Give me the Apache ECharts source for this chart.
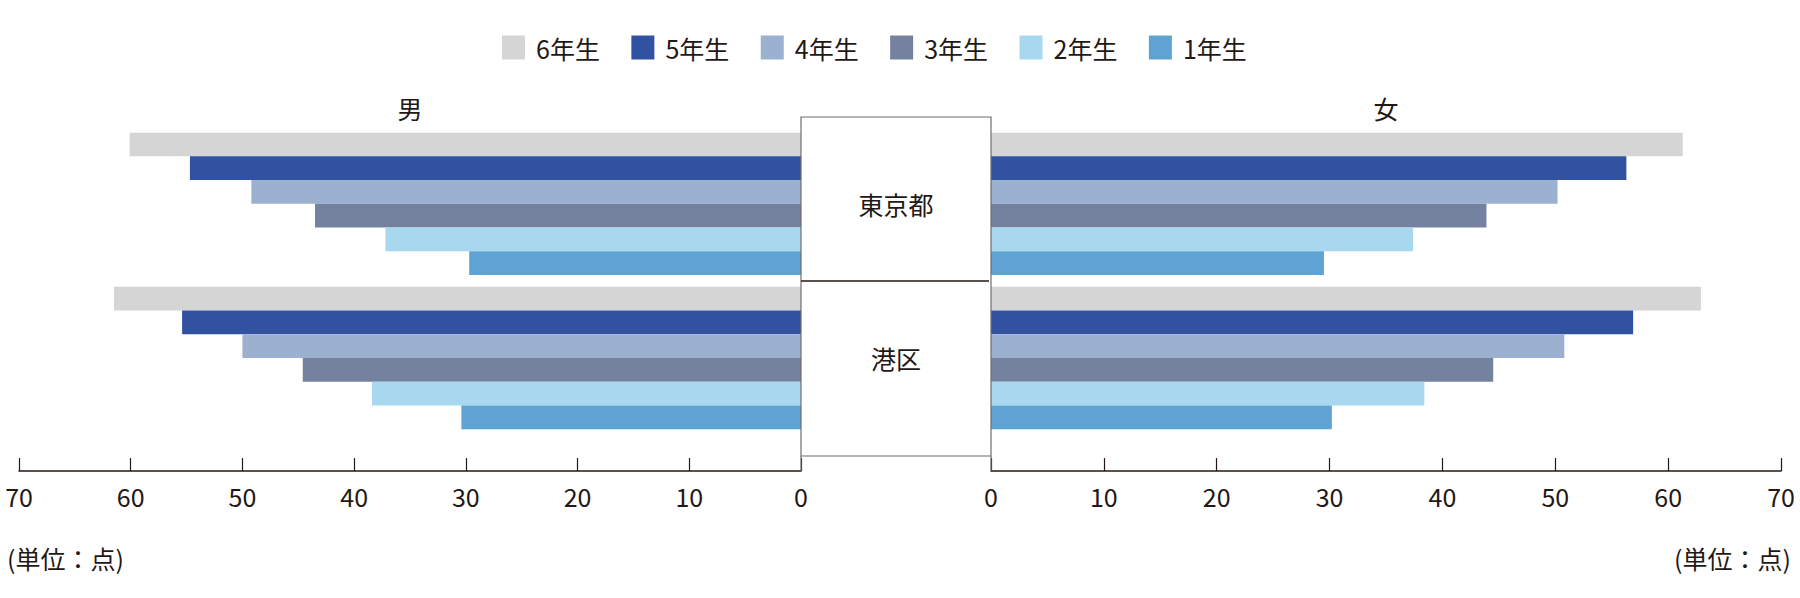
<!DOCTYPE html>
<html>
<head>
<meta charset="utf-8">
<script src="https://cdn.jsdelivr.net/npm/echarts@6/dist/echarts.min.js"></script>
<style>
html,body{margin:0;padding:0;background:#fff;}
#c{width:1800px;height:598px;}
</style>
</head>
<body>
<div id="c"></div>
<script>
// ---- data ----
const categories = ['東京都', '港区'];
const grades = ['6年生', '5年生', '4年生', '3年生', '2年生', '1年生'];
const male6 = [60.1, 61.5];
const male5 = [54.7, 55.4];
const male4 = [49.2, 50.0];
const male3 = [43.5, 44.6];
const male2 = [37.2, 38.4];
const male1 = [29.7, 30.4];
const female6 = [61.3, 62.9];
const female5 = [56.3, 56.9];
const female4 = [50.2, 50.8];
const female3 = [43.9, 44.5];
const female2 = [37.4, 38.4];
const female1 = [29.5, 30.2];
const sideLabels = ['男', '女'];
const unitLabel = '(単位：点)';
const axisMin = 0, axisMax = 70, axisStep = 10;

// ---- styles ----
const colors = ['#d5d5d5', '#3152a0', '#9cb0cf', '#74829f', '#a8d8ee', '#5fa2d4'];
const ink = '#231815';
const fontFam = '"Liberation Sans Narrow", "Noto Sans CJK JP", sans-serif';

const maleData = [male6, male5, male4, male3, male2, male1];
const femaleData = [female6, female5, female4, female3, female2, female1];

const gridTop = 126.7, gridH = 308.4;
const L = {left: 19, width: 782};
const R = {left: 991, width: 790};

function xAxisCfg(gridIndex, inverse) {
  return {
    type: 'value', gridIndex: gridIndex, inverse: inverse,
    min: axisMin, max: axisMax, interval: axisStep,
    position: 'bottom', offset: 36,
    axisLine: {show: true, lineStyle: {color: ink, width: 1.5}},
    axisTick: {show: true, inside: true, length: 13, lineStyle: {color: ink, width: 1.2}},
    splitLine: {show: false},
    axisLabel: {color: ink, fontSize: 25, fontFamily: fontFam, margin: 12}
  };
}

const series = [];
grades.forEach((g, i) => {
  series.push({
    name: g, type: 'bar', xAxisIndex: 0, yAxisIndex: 0,
    data: maleData[i], itemStyle: {color: colors[i]},
    barGap: '0%', barCategoryGap: '7.7%', silent: true
  });
});
grades.forEach((g, i) => {
  series.push({
    name: g, type: 'bar', xAxisIndex: 1, yAxisIndex: 1,
    data: femaleData[i], itemStyle: {color: colors[i]},
    barGap: '0%', barCategoryGap: '7.7%', silent: true
  });
});

const chart = echarts.init(document.getElementById('c'), null, {renderer: 'svg'});
chart.setOption({
  animation: false,
  backgroundColor: '#fff',
  color: colors,
  legend: {
    data: grades, left: 502, top: 35, padding: 0,
    itemWidth: 23, itemHeight: 24, itemGap: 31.5,
    icon: 'rect',
    textStyle: {color: ink, fontSize: 25, fontFamily: fontFam, padding: [0, 0, 0, 6]}
  },
  grid: [
    {left: L.left, width: L.width, top: gridTop, height: gridH, containLabel: false},
    {left: R.left, width: R.width, top: gridTop, height: gridH, containLabel: false}
  ],
  xAxis: [xAxisCfg(0, true), xAxisCfg(1, false)],
  yAxis: [
    {type: 'category', gridIndex: 0, data: categories, inverse: true, position: 'right',
     axisLine: {show: false}, axisTick: {show: false}, splitLine: {show: false},
     axisLabel: {show: true, margin: 95, align: 'center', color: ink, fontSize: 25, fontFamily: fontFam}},
    {type: 'category', gridIndex: 1, data: categories, inverse: true, position: 'left',
     axisLine: {show: false}, axisTick: {show: false}, splitLine: {show: false},
     axisLabel: {show: false}}
  ],
  graphic: [
    {type: 'rect', shape: {x: 801, y: 117, width: 190, height: 339},
     style: {fill: 'none', stroke: '#6e6e6e', lineWidth: 1.2}, z: 10},
    {type: 'line', shape: {x1: 801, y1: 281, x2: 989, y2: 281},
     style: {stroke: ink, lineWidth: 1.5}, z: 10},
    {type: 'line', shape: {x1: 801, y1: 456, x2: 801, y2: 471},
     style: {stroke: '#6e6e6e', lineWidth: 1.2}, z: 10},
    {type: 'line', shape: {x1: 991, y1: 456, x2: 991, y2: 471},
     style: {stroke: '#6e6e6e', lineWidth: 1.2}, z: 10},
    {type: 'text', x: 410, y: 108, style: {text: sideLabels[0], fill: ink, fontSize: 25, fontFamily: fontFam, textAlign: 'center', textVerticalAlign: 'middle'}},
    {type: 'text', x: 1386, y: 108, style: {text: sideLabels[1], fill: ink, fontSize: 25, fontFamily: fontFam, textAlign: 'center', textVerticalAlign: 'middle'}},
    {type: 'text', x: 7, y: 558, style: {text: unitLabel, fill: ink, fontSize: 25, fontFamily: fontFam, textAlign: 'left', textVerticalAlign: 'middle'}},
    {type: 'text', x: 1791, y: 558, style: {text: unitLabel, fill: ink, fontSize: 25, fontFamily: fontFam, textAlign: 'right', textVerticalAlign: 'middle'}}
  ],
  series: series
});
</script>
</body>
</html>
